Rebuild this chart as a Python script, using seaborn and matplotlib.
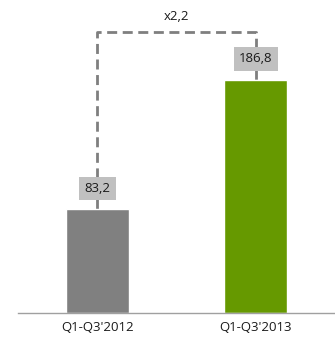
import numpy as np
import pandas as pd
import matplotlib
matplotlib.use("Agg")
import matplotlib.pyplot as plt
import seaborn as sns

# data
periods = ["Q1-Q3'2012", "Q1-Q3'2013"]
values = [83.2, 186.8]
value_labels = ["83,2", "186,8"]
growth_label = "x2,2"
bar_colors = ["#808080", "#669900"]

sns.set_style("white")
plt.rcParams["font.family"] = ["Open Sans", "DejaVu Sans"]

df = pd.DataFrame({"period": periods, "value": values})

fig = plt.figure(figsize=(3.35, 3.39), dpi=100)
ax = fig.add_axes([18 / 335, 26 / 339, 317 / 335, 313 / 339])

sns.barplot(data=df, x="period", y="value", hue="period", palette=bar_colors,
            width=0.4, legend=False, ax=ax, saturation=1, zorder=2)

ax.set_xlim(-0.5, -0.5 + 317 / 166)
ax.set_ylim(0, 250.4)

# dashed bracket connecting the two bars
top = 225
ax.plot([0, 0, 1, 1], [values[0], top, top, values[1]], color="#7f7f7f",
        linestyle=(0, (3.6, 2.0)), linewidth=2.0, zorder=1)
ax.text(0.5, top + 12, growth_label, ha="center", va="center", fontsize=9.5,
        color="#1a1a1a")

# value labels in grey boxes
for i, (v, lab) in enumerate(zip(values, value_labels)):
    ax.text(i, v + 16.5, lab, ha="center", va="center", fontsize=9.5,
            color="#1a1a1a", zorder=3,
            bbox=dict(boxstyle="square,pad=0.4", facecolor="#c0c0c0",
                      edgecolor="none"))

for s in ["top", "right", "left"]:
    ax.spines[s].set_visible(False)
ax.spines["bottom"].set_color("#a0a0a0")
ax.spines["bottom"].set_linewidth(1.0)
ax.set_yticks([])
ax.set_xlabel("")
ax.set_ylabel("")
ax.tick_params(axis="x", which="major", length=0, labelsize=9.5,
               labelcolor="#1a1a1a", pad=6)
ax.set_xticks([-0.5, 0.5, 1.5], minor=True)
ax.tick_params(axis="x", which="minor", length=4, color="#a0a0a0", width=1,
               direction="out")

fig.savefig("out.png", dpi=100)
